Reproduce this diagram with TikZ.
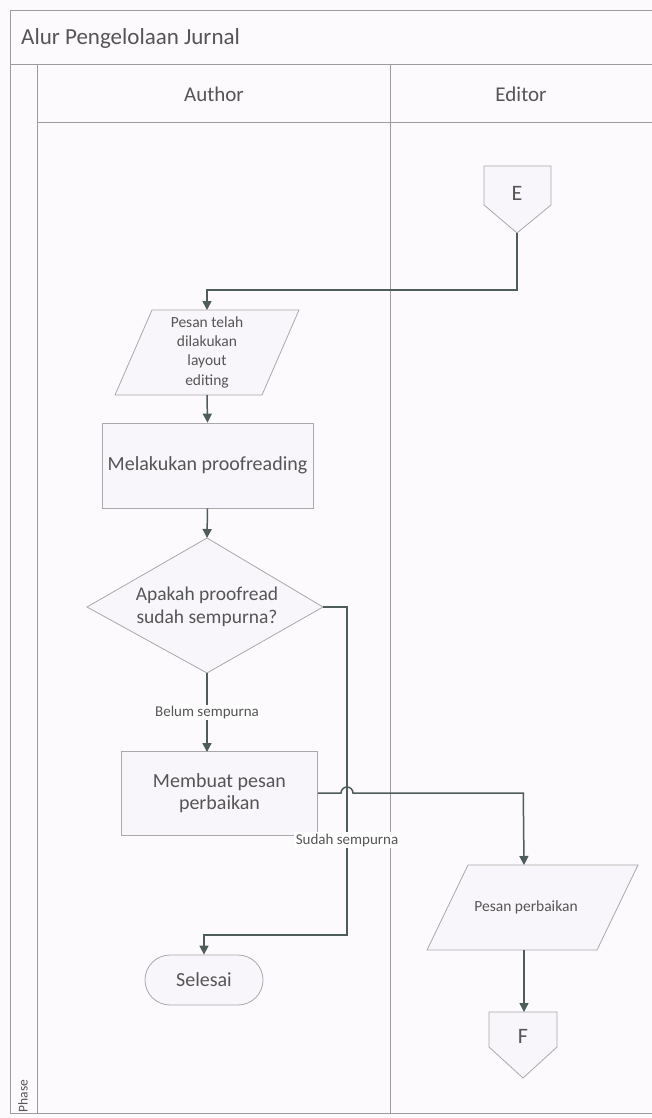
\documentclass[tikz,border=0pt]{standalone}
\usepackage{fontspec}
\setmainfont{Carlito}
\usetikzlibrary{arrows.meta}
\definecolor{linecol}{HTML}{4F5C5C}
\definecolor{shapeborder}{HTML}{A9A9A9}
\definecolor{shapefill}{HTML}{F8F6FA}
\definecolor{txt}{HTML}{555555}
\definecolor{framecol}{HTML}{9C9C9C}
\definecolor{bg}{HTML}{FCFAFC}
\tikzset{
  conn/.style={draw=linecol, line width=1.5pt},
  arr/.style={conn, -{Triangle[width=9pt,length=9pt]}},
  shp/.style={draw=shapeborder, fill=shapefill, line width=0.8pt},
  lbl/.style={text=txt, align=center, inner sep=1pt},
  edgelbl/.style={text=txt, fill=white, inner sep=1.5pt, font=\fontsize{15}{17}\selectfont},
  frm/.style={draw=framecol, line width=0.9pt}
}
\begin{document}
\begin{tikzpicture}[x=1pt,y=-1pt]
\useasboundingbox (0,0) rectangle (652,1118);
\fill[bg] (0,0) rectangle (652,1118);
% frame
\draw[frm] (652,10) -- (10,10) -- (10,1113) -- (652,1113);
\draw[frm] (10,64) -- (652,64);
\draw[frm] (37,122) -- (652,122);
\draw[frm] (37,64) -- (37,1113);
\draw[frm] (390,64) -- (390,1113);
\node[lbl, anchor=west, font=\fontsize{23}{26}\selectfont] (title) at (20,38) {Alur Pengelolaan Jurnal};
\node[lbl, font=\fontsize{21}{24}\selectfont] (author) at (214,94) {Author};
\node[lbl, font=\fontsize{21}{24}\selectfont] (editor) at (521,94) {Editor};
\node[lbl, rotate=90, font=\fontsize{13.5}{15}\selectfont] (phase) at (23,1096) {Phase};

% E connector
\draw[shp] (484,166) -- (551,166) -- (551,205) -- (517,233) -- (484,205) -- cycle;
\node[lbl, font=\fontsize{22}{24}\selectfont] (E) at (517,193) {E};
\coordinate (Etip) at (517,233);

% parallelogram 1
\draw[shp] (152,310) -- (299,310) -- (262,395) -- (115,395) -- cycle;
\node[lbl, font=\fontsize{15.5}{19.3}\selectfont] (pesan1) at (207,352) {Pesan telah\\dilakukan\\layout\\editing};
\coordinate (p1top) at (207,310);
\coordinate (p1bot) at (207,395);

% rect proofreading
\node[shp, lbl, minimum width=211pt, minimum height=85pt, font=\fontsize{20}{23}\selectfont] (proof) at (207.5,465.5) {Melakukan proofreading};

% diamond
\draw[shp] (207,538) -- (323,607) -- (207,673) -- (87,607) -- cycle;
\node[lbl, font=\fontsize{19.5}{23}\selectfont] (dec) at (207,607) {Apakah proofread\\sudah sempurna?};
\coordinate (dtop) at (207,538);
\coordinate (dbot) at (207,673);
\coordinate (dright) at (323,607);

% rect perbaikan
\node[shp, lbl, minimum width=196pt, minimum height=84pt, font=\fontsize{20}{22}\selectfont] (buat) at (219.5,793) {Membuat pesan\\perbaikan};

% Selesai
\node[shp, lbl, rounded corners=25pt, minimum width=118pt, minimum height=50pt, font=\fontsize{20}{22}\selectfont] (selesai) at (204,980) {Selesai};

% parallelogram 2
\draw[shp] (468,865) -- (638,865) -- (597,950) -- (427,950) -- cycle;
\node[lbl, font=\fontsize{15.5}{17}\selectfont] (pesan2) at (526,907) {Pesan perbaikan};
\coordinate (p2top) at (524,865);
\coordinate (p2bot) at (524,950);

% F connector
\draw[shp] (489,1012) -- (557,1012) -- (557,1047) -- (523,1078) -- (489,1047) -- cycle;
\node[lbl, font=\fontsize{22}{24}\selectfont] (F) at (523,1036) {F};
\coordinate (Ftop) at (524,1012);

% connectors
\draw[arr] (Etip) -- (517,290) -- (207,290) -- (p1top);
\draw[arr] (p1bot) -- (proof.north);
\draw[arr] (proof.south) -- (dtop);
\draw[arr] (dbot) -- (207,752) node[edgelbl, pos=0.5] (belum) {Belum sempurna};
\draw[conn] (dright) -- (347,607) -- (347,935) -- (204,935);
\draw[arr] (204,934.25) -- (selesai.north);
\node[edgelbl] (sudah) at (347,840) {Sudah sempurna};
\draw[conn] (buat.east) -- (341,793) arc[start angle=180, end angle=360, radius=6] -- (524,793);
\draw[arr] (523.25,793) -- (p2top);
\draw[arr] (p2bot) -- (Ftop);
\end{tikzpicture}
\end{document}
